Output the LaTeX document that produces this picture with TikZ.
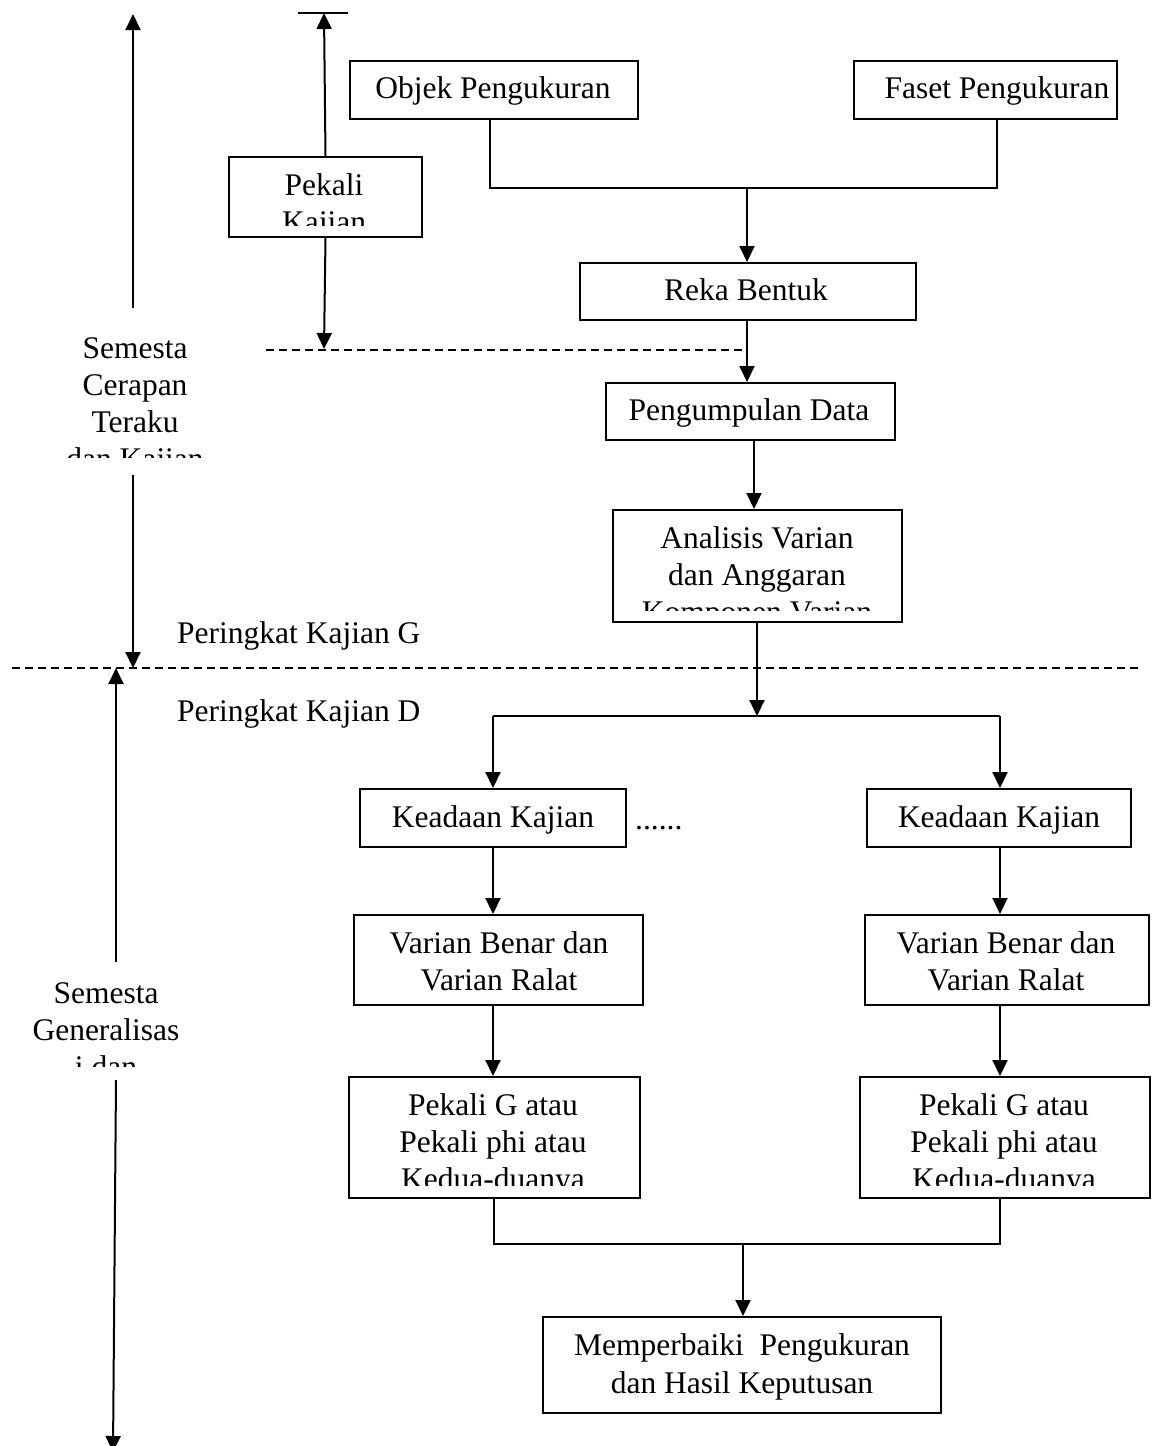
\documentclass[tikz,border=0pt]{standalone}
\usepackage{fontspec}
\setmainfont{Liberation Serif}
\usetikzlibrary{arrows.meta}
\begin{document}
\begin{tikzpicture}[x=1pt,y=-1pt,
  box/.style={draw, line width=2pt, inner sep=0pt, anchor=north west},
  txt/.style={inner sep=0pt, anchor=base, font=\fontsize{31.5}{37}\selectfont},
  ln/.style={line width=2pt},
  arr/.style={line width=2pt, -{Triangle[width=15pt,length=16pt]}},
  dsh/.style={line width=1.6pt, dash pattern=on 8pt off 5pt}]
\useasboundingbox (0,0) rectangle (1155,1446);
\clip (0,0) rectangle (1155,1446);

% boxes
\node[box, minimum width=288pt, minimum height=58pt] (objek) at (349,60) {};
\node[box, minimum width=263pt, minimum height=58pt] (faset) at (853,60) {};
\node[box, minimum width=193pt, minimum height=80pt] (pkajian) at (228,156) {};
\node[box, minimum width=336pt, minimum height=57pt] (reka) at (579,262) {};
\node[box, minimum width=289pt, minimum height=57pt] (kumpul) at (605,382) {};
\node[box, minimum width=289pt, minimum height=112pt] (anal) at (612,509) {};
\node[box, minimum width=266pt, minimum height=58pt] (keadL) at (359,788) {};
\node[box, minimum width=264pt, minimum height=58pt] (keadR) at (866,788) {};
\node[box, minimum width=289pt, minimum height=90pt] (varL) at (353,914) {};
\node[box, minimum width=284pt, minimum height=90pt] (varR) at (864,914) {};
\node[box, minimum width=291pt, minimum height=121pt] (pekL) at (348,1076) {};
\node[box, minimum width=290pt, minimum height=121pt] (pekR) at (859,1076) {};
\node[box, minimum width=398pt, minimum height=96pt] (baik) at (542,1316) {};

% texts
\node[txt] (tObjek) at (493,98) {Objek Pengukuran};
\node[txt] (tFaset) at (997,98) {Faset Pengukuran};
\node[txt] (tReka) at (746,300) {Reka Bentuk};
\node[txt] (tKumpul) at (749,420) {Pengumpulan Data};
\node[txt] (tKeadL) at (493,827) {Keadaan Kajian};
\node[txt] (tKeadR) at (999,827) {Keadaan Kajian};
\node[txt, anchor=base west] (tDots) at (635,829) {......};
\node[txt] (tVarL1) at (499,953) {Varian Benar dan};
\node[txt] (tVarL2) at (499,990) {Varian Ralat};
\node[txt] (tVarR1) at (1006,953) {Varian Benar dan};
\node[txt] (tVarR2) at (1006,990) {Varian Ralat};
\node[txt] (tBaik1) at (742,1355) {Memperbaiki\ \ Pengukuran};
\node[txt] (tBaik2) at (742,1393) {dan Hasil Keputusan};
\node[txt, anchor=base west] (tPerG) at (177,643) {Peringkat Kajian G};
\node[txt, anchor=base west] (tPerD) at (177,721) {Peringkat Kajian D};

% clipped texts
\begin{scope}
  \clip (228,156) rectangle (421,225);
  \node[txt] (tPk1) at (324,195) {Pekali};
  \node[txt] (tPk2) at (324,232) {Kajian};
\end{scope}
\begin{scope}
  \clip (612,509) rectangle (901,610);
  \node[txt] (tAn1) at (757,548) {Analisis Varian};
  \node[txt] (tAn2) at (757,585) {dan Anggaran};
  \node[txt] (tAn3) at (757,622) {Komponen Varian};
\end{scope}
\begin{scope}
  \clip (348,1076) rectangle (639,1185);
  \node[txt] (tPL1) at (493,1115) {Pekali G atau};
  \node[txt] (tPL2) at (493,1152) {Pekali phi atau};
  \node[txt] (tPL3) at (493,1189) {Kedua-duanya};
\end{scope}
\begin{scope}
  \clip (859,1076) rectangle (1149,1185);
  \node[txt] (tPR1) at (1004,1115) {Pekali G atau};
  \node[txt] (tPR2) at (1004,1152) {Pekali phi atau};
  \node[txt] (tPR3) at (1004,1189) {Kedua-duanya};
\end{scope}
\begin{scope}
  \clip (20,320) rectangle (260,457);
  \node[txt] (tSC1) at (135,358) {Semesta};
  \node[txt] (tSC2) at (135,395) {Cerapan};
  \node[txt] (tSC3) at (135,432) {Teraku};
  \node[txt] (tSC4) at (135,469) {dan Kajian};
\end{scope}
\begin{scope}
  \clip (0,970) rectangle (240,1066);
  \node[txt] (tSG1) at (106,1003) {Semesta};
  \node[txt] (tSG2) at (106,1040) {Generalisas};
  \node[txt] (tSG3) at (106,1077) {i dan};
\end{scope}

% connectors, upper part
\coordinate (xa) at (490,188);
\coordinate (xb) at (997,188);
\coordinate (xm) at (747,188);
\draw[ln] (xa |- objek.south) -- (xa) -- (xb) -- (xb |- faset.south);
\draw[arr] (xm) -- (xm |- reka.north);
\draw[arr] (xm |- reka.south) -- (xm |- kumpul.north);
\coordinate (dL) at (266,350);
\draw[dsh] (dL) -- (xm |- dL);
\coordinate (xn) at (754,0);
\draw[arr] (xn |- kumpul.south) -- (xn |- anal.north);
\coordinate (j2) at (757,716);
\draw[arr] (j2 |- anal.south) -- (j2);
\coordinate (j2L) at (493,716);
\coordinate (j2R) at (1000,716);
\draw[ln] (j2L) -- (j2R);
\draw[arr] (j2L) -- (j2L |- keadL.north);
\draw[arr] (j2R) -- (j2R |- keadR.north);
\draw[arr] (j2L |- keadL.south) -- (j2L |- varL.north);
\draw[arr] (j2R |- keadR.south) -- (j2R |- varR.north);
\draw[arr] (j2L |- varL.south) -- (j2L |- pekL.north);
\draw[arr] (j2R |- varR.south) -- (j2R |- pekR.north);
\coordinate (j3L) at (494,1244);
\coordinate (j3R) at (1000,1244);
\coordinate (j3) at (743,1244);
\draw[ln] (j3L |- pekL.south) -- (j3L) -- (j3R) -- (j3R |- pekR.south);
\draw[arr] (j3) -- (j3 |- baik.north);

% Pekali Kajian arrows
\coordinate (pt) at (324,13);
\coordinate (pb) at (324,349);
\coordinate (bar1) at (298,13);
\coordinate (bar2) at (348,13);
\draw[arr] (pkajian.north) -- (pt);
\draw[ln] (bar1) -- (bar2);
\draw[arr] (pkajian.south) -- (pb);

% level divider
\coordinate (dv1) at (12,668);
\coordinate (dv2) at (1142,668);
\draw[dsh] (dv1) -- (dv2);

% left arrows
\coordinate (l1a) at (133,308);
\coordinate (l1b) at (133,14);
\coordinate (l2a) at (133,475);
\coordinate (l2b) at (133,668);
\coordinate (l3a) at (116,962);
\coordinate (l3b) at (116,668);
\coordinate (l4a) at (116,1080);
\coordinate (l4b) at (113,1452);
\draw[arr] (l1a) -- (l1b);
\draw[arr] (l2a) -- (l2b);
\draw[arr] (l3a) -- (l3b);
\draw[arr] (l4a) -- (l4b);
\end{tikzpicture}
\end{document}
